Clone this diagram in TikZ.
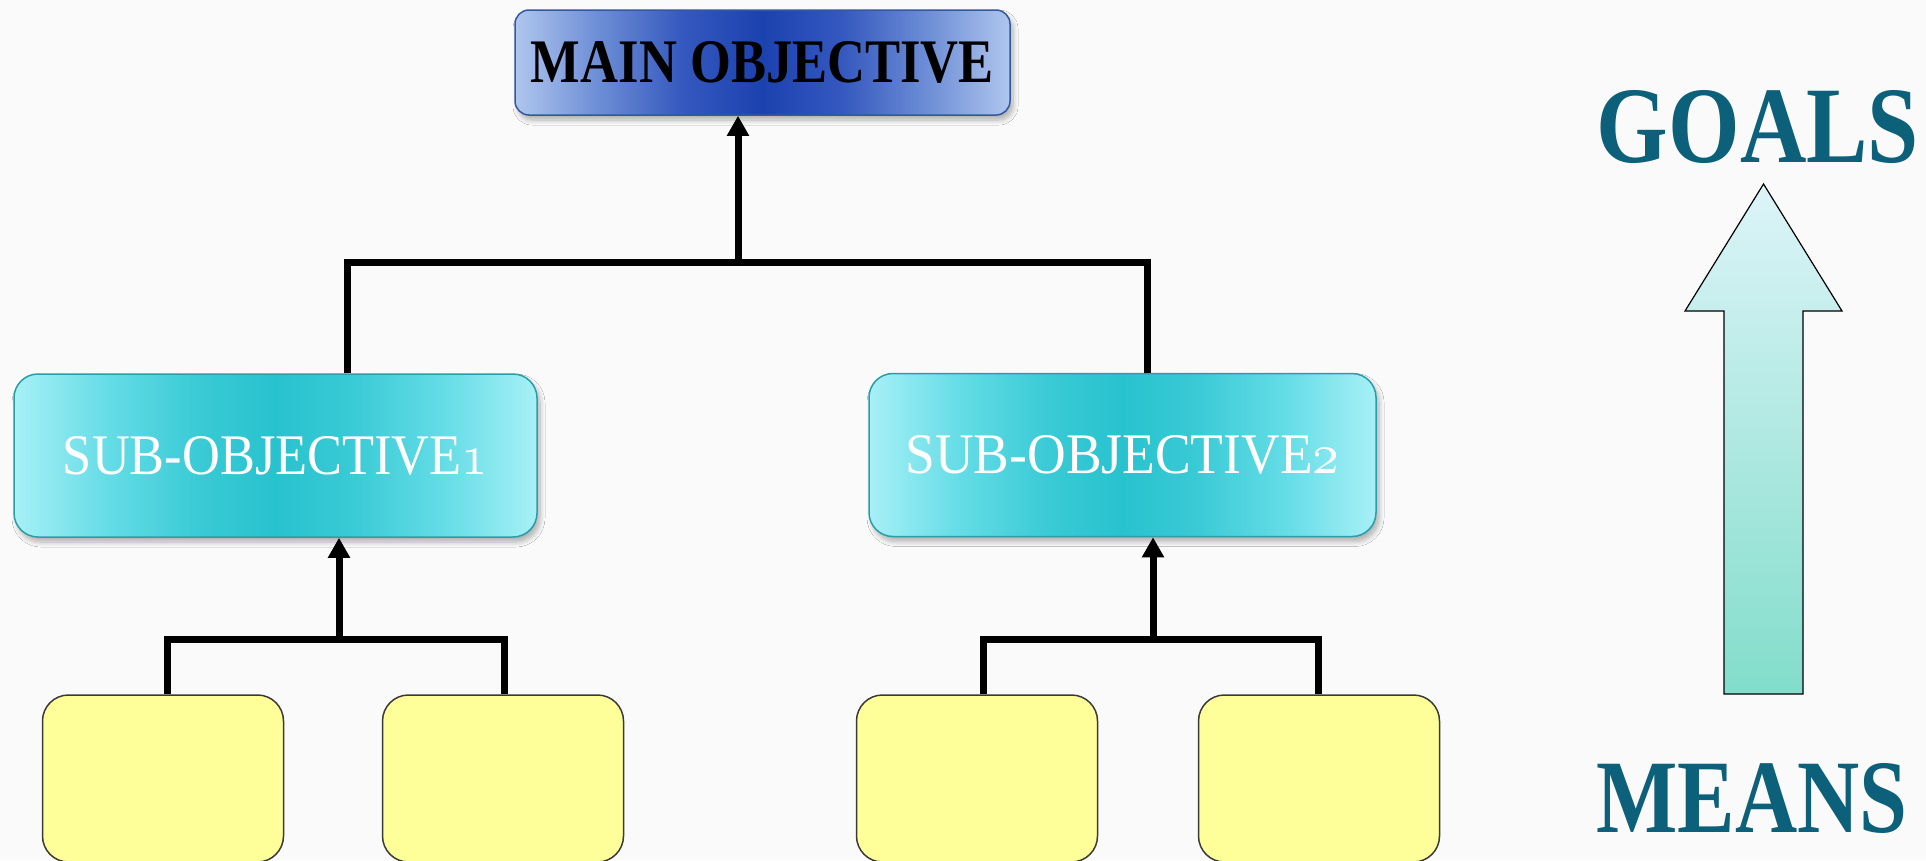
\documentclass[tikz,border=0pt]{standalone}
\usepackage{graphicx}
\usepackage{fontspec}
\setmainfont{Liberation Serif}
\usetikzlibrary{arrows.meta,shadows.blur}

\definecolor{pagebg}{HTML}{FAFAFA}
\definecolor{mainedge}{HTML}{34589E}
\definecolor{subedge}{HTML}{2A9EA8}
\definecolor{leaffill}{HTML}{FFFF99}
\definecolor{leafedge}{HTML}{3A3A3A}
\definecolor{sidetext}{HTML}{0C6079}
\definecolor{arrowtop}{HTML}{DDF4F8}
\definecolor{arrowbot}{HTML}{82DDCB}

% old-style figure taken from the math italic font
\newcommand{\osfig}[1]{{\fontencoding{OML}\fontfamily{cmm}\fontseries{m}\fontshape{it}\selectfont #1}}

% left-to-right fills (the shaded box spans 25bp..75bp): pale ends, deep middle
\pgfdeclarehorizontalshading{mainfill}{100bp}{
  color(0bp)=(rgb,255:red,176;green,198;blue,238);
  color(25bp)=(rgb,255:red,176;green,198;blue,238);
  color(33bp)=(rgb,255:red,112;green,144;blue,215);
  color(42bp)=(rgb,255:red,52;green,88;blue,190);
  color(50bp)=(rgb,255:red,28;green,66;blue,176);
  color(58bp)=(rgb,255:red,52;green,88;blue,190);
  color(67bp)=(rgb,255:red,112;green,144;blue,215);
  color(75bp)=(rgb,255:red,176;green,198;blue,238);
  color(100bp)=(rgb,255:red,176;green,198;blue,238)}
\pgfdeclarehorizontalshading{subfill}{100bp}{
  color(0bp)=(rgb,255:red,168;green,240;blue,246);
  color(25bp)=(rgb,255:red,168;green,240;blue,246);
  color(34bp)=(rgb,255:red,100;green,220;blue,230);
  color(43bp)=(rgb,255:red,56;green,202;blue,213);
  color(50bp)=(rgb,255:red,40;green,194;blue,206);
  color(57bp)=(rgb,255:red,56;green,202;blue,213);
  color(66bp)=(rgb,255:red,100;green,220;blue,230);
  color(75bp)=(rgb,255:red,168;green,240;blue,246);
  color(100bp)=(rgb,255:red,168;green,240;blue,246)}

\tikzset{
  boxshadow/.style={blur shadow={shadow xshift=3pt, shadow yshift=-5pt,
      shadow blur steps=8, shadow blur radius=5pt, shadow opacity=30}},
  mainbox/.style={draw=mainedge, line width=1.5pt, rounded corners=14pt,
      minimum width=495pt, minimum height=105pt, inner sep=0pt,
      shading=mainfill, boxshadow},
  subbox/.style={draw=subedge, line width=1.5pt, rounded corners=24pt,
      minimum height=163pt, inner sep=0pt, text=white,
      shading=subfill, boxshadow},
  leafbox/.style={draw=leafedge, line width=1.5pt, fill=leaffill,
      rounded corners=26pt, minimum width=241pt, minimum height=167pt},
  bar/.style={line width=7pt, black},
  riser/.style={bar, -{Triangle[width=21pt,length=20pt]}},
  sidelabel/.style={text=sidetext, inner sep=0pt, font=\bfseries},
  bigarrow/.style={draw=black, line width=1.2pt, top color=arrowtop, bottom color=arrowbot}
}

\begin{document}
\begin{tikzpicture}[x=1pt, y=-1pt]
  % page area
  \fill[pagebg] (0,0) rectangle (1926,860);
  \clip (0,0) rectangle (1926,860);

  % top level
  \node[mainbox] (main) at (762.5,62.5)
    {\resizebox{463pt}{41pt}{\bfseries MAIN OBJECTIVE}};

  % second level
  \node[subbox, minimum width=523pt] (sub1) at (275.5,455.5)
    {\resizebox{425pt}{38pt}{SUB-OBJECTIVE\osfig{1}}};
  \node[subbox, minimum width=507pt] (sub2) at (1122.5,455)
    {\resizebox{434pt}{38pt}{SUB-OBJECTIVE\osfig{2}}};

  % bottom level (empty boxes)
  \node[leafbox] (leaf1) at (163,778.5) {};
  \node[leafbox] (leaf2) at (503,778.5) {};
  \node[leafbox] (leaf3) at (977,778.5) {};
  \node[leafbox] (leaf4) at (1319,778.5) {};

  % junction points of the brackets
  \coordinate (jtop) at (738,262);
  \coordinate (jleft) at (339,639);
  \coordinate (jright) at (1153,639);

  % brackets and risers
  \draw[bar] ([xshift=72pt]sub1.north) |- (jtop) -| ([xshift=25pt]sub2.north);
  \draw[riser] (jtop) -- (jtop |- main.south);

  \draw[bar] ([xshift=4pt]leaf1.north) |- (jleft) -| ([xshift=1pt]leaf2.north);
  \draw[riser] (jleft) -- (jleft |- sub1.south);

  \draw[bar] ([xshift=6pt]leaf3.north) |- (jright) -| ([xshift=-1pt]leaf4.north);
  \draw[riser] (jright) -- (jright |- sub2.south);

  % goals / means scale
  \node[sidelabel] (goals) at (1758,127) {\resizebox{322pt}{72pt}{GOALS}};
  \node[sidelabel] (means) at (1752,798) {\resizebox{311pt}{69pt}{MEANS}};
  \draw[bigarrow] (1724,694) -- (1724,311) -- (1685,311) -- (1763.5,184)
    -- (1842,311) -- (1803,311) -- (1803,694) -- cycle;
\end{tikzpicture}
\end{document}
